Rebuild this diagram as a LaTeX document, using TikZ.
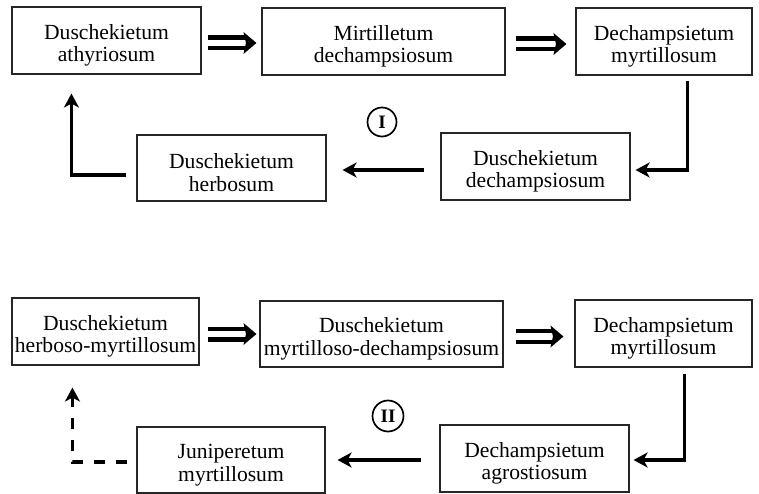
\documentclass[tikz,border=0pt]{standalone}
\usepackage{fontspec}
\setmainfont{Liberation Serif}
\usetikzlibrary{arrows.meta,calc}
\newcommand\up{\rule{0pt}{24.5pt}}
\newcommand\dblarrow[4]{%
  \coordinate (ds) at ($(#1.east)+(#3,2.5)$);
  \coordinate (de) at ($(ds -| #2.west)+(-#4,0)$);
  \draw[dbl] (ds) -- ($(de)+(-10,0)$);
  \fill (de) -- ++(-13,-11) -- ++(2.5,11) -- ++(-2.5,11) -- cycle;
}
\begin{document}
\begin{tikzpicture}[x=1pt,y=-1pt,
  box/.style={draw=black!85, line width=1.1pt, minimum width=#1, minimum height=67pt,
    inner sep=0pt, align=center, font=\fontsize{21.6}{22.5}\selectfont},
  arr/.style={line width=3.8pt, -{Stealth[length=14pt,width=15pt,inset=4pt]}},
  dbl/.style={line width=4.3pt, double=white, double distance=6.4pt},
  roman/.style={circle, draw, line width=1.7pt, inner sep=0pt, font=\fontsize{19}{19}\selectfont\bfseries}
]
\useasboundingbox (0,0) rectangle (759,494);

% cycle I
\node[box=189pt] (A1) at (106.5,40.5) {\up Duschekietum\\athyriosum};
\node[box=243pt] (A2) at (383.5,41.5) {\up Mirtilletum\\dechampsiosum};
\node[box=176pt] (A3) at (664,41.5) {\up Dechampsietum\\myrtillosum};
\node[box=189pt] (B2) at (535.5,166.5) {\up Duschekietum\\dechampsiosum};
\node[box=189pt, minimum height=66pt] (B1) at (231.5,168) {\up Duschekietum\\herbosum};
\node[roman, minimum size=29pt] (r1) at (382,122) {I};

\dblarrow{A1}{A2}{6}{5}
\dblarrow{A2}{A3}{10}{9}
\draw[arr] ($(A3.south west)+(112,5)$) |- ($(B2.east)+(5,3.5)$);
\draw[arr] ($(B2.west)+(-16,3.5)$) -- ($(B1.east)+(16,2)$);
\draw[arr] ($(B1.west)+(-10,7)$) -| ($(A1.south west)+(60,19)$);

% cycle II
\node[box=187pt] (C1) at (105.5,331.5) {\up Duschekietum\\herboso-myrtillosum};
\node[box=243pt, minimum height=66pt] (C2) at (381.5,334) {\up Duschekietum\\myrtilloso-dechampsiosum};
\node[box=177pt] (C3) at (663.5,333.5) {\up Dechampsietum\\myrtillosum};
\node[box=189pt] (D2) at (534.5,458.5) {\up Dechampsietum\\agrostiosum};
\node[box=188pt, minimum height=66pt] (D1) at (231,460) {\up Juniperetum\\myrtillosum};
\node[roman, minimum size=31pt] (r2) at (388,416) {II};

\dblarrow{C1}{C2}{8}{3}
\dblarrow{C2}{C3}{12}{11}
\draw[arr] ($(C3.south west)+(110,6)$) |- ($(D2.east)+(4,1.5)$);
\draw[arr] ($(D2.west)+(-18,1.5)$) -- ($(D1.east)+(12,0)$);
\draw[arr, dash pattern=on 11pt off 11pt] ($(D1.west)+(-9,2)$) -| ($(C1.south west)+(61,22)$);
\end{tikzpicture}
\end{document}
